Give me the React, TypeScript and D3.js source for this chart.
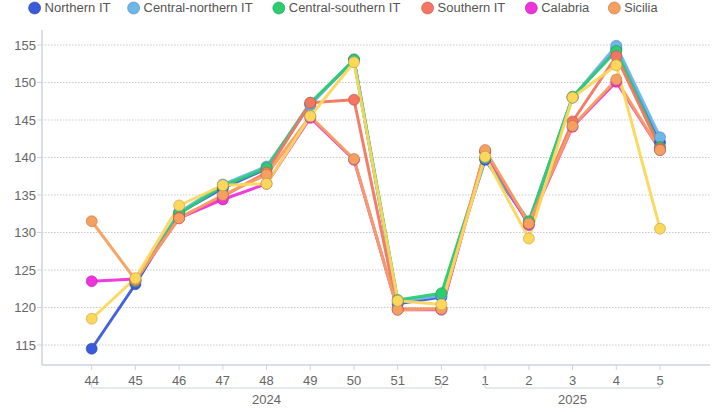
import React from "react";
import * as d3 from "d3";

const weeks = ["44", "45", "46", "47", "48", "49", "50", "51", "52", "1", "2", "3", "4", "5"];
const years = [
  { label: "2024", from: "44", to: "52" },
  { label: "2025", from: "1", to: "5" },
];
const yTicks = [115, 120, 125, 130, 135, 140, 145, 150, 155];

type V = number | null;
const northern: V[] = [114.5, 123.1, 132.6, 135.9, 138.5, 147.1, 153.0, 120.5, 121.4, 139.7, 131.3, 148.0, 154.5, 142.0];
const centralNorthern: V[] = [null, 123.5, 132.7, 136.4, 138.8, 147.0, 153.1, 120.8, 121.6, 139.9, 131.4, 148.0, 154.9, 142.7];
const centralSouthern: V[] = [null, 123.5, 132.5, 136.2, 138.6, 147.3, 153.0, 121.0, 121.9, 140.0, 131.5, 148.1, 154.2, 141.4];
const southern: V[] = [null, 123.6, 132.0, 134.8, 138.0, 147.3, 147.7, 119.8, 119.8, 140.8, 131.1, 144.8, 153.5, 141.2];
const calabria: V[] = [123.5, 123.8, 131.9, 134.4, 136.5, 145.3, 139.7, 119.7, 119.7, 140.8, 131.0, 144.1, 150.1, 141.0];
const sicilia: V[] = [131.5, 123.7, 131.9, 135.0, 137.7, 145.5, 139.8, 119.7, 119.8, 141.0, 131.2, 144.2, 150.4, 141.0];
const sardegna: V[] = [118.5, 123.9, 133.6, 136.3, 136.5, 145.5, 152.7, 120.9, 120.4, 140.1, 129.2, 148.0, 152.3, 130.5];

const seriesNames = ["Northern IT", "Central-northern IT", "Central-southern IT", "Southern IT", "Calabria", "Sicilia", ""];
const seriesValues = [northern, centralNorthern, centralSouthern, southern, calabria, sicilia, sardegna];
const seriesColors = ["#3a5bd9", "#6cb6ea", "#2ecc71", "#f47562", "#f032da", "#f5a05e", "#fcd75a"];
const showInLegend = [true, true, true, true, true, true, false];

const W = 719;
const H = 412;
const left = 42;
const right = 710;
const top = 30;
const bottom = 365;

export default function App() {
  const x = d3.scaleLinear().domain([0, weeks.length - 1]).range([91.7, 660]);
  const y = d3.scaleLinear().domain([112.33, 157.0]).range([bottom, top]);
  const fx = (i: number) => x(i);
  const line = d3
    .line<V>()
    .defined((d) => d != null)
    .x((_, i) => fx(i))
    .y((d) => y(d as number));

  const legendX = [34.6, 133.6, 278.8, 427.6, 531.3, 614.3];
  const legendW = [66, 109, 111.5, 67.7, 48, 33.2];
  const font = "'Liberation Sans', Arial, sans-serif";

  return (
    <svg width={W} height={H} style={{ position: "absolute", left: 0, top: 0, fontFamily: font }}>
      <rect width={W} height={H} fill="#fff" />
      {yTicks.map((t) => (
        <g key={t}>
          <line x1={left} x2={right} y1={y(t)} y2={y(t)} stroke="#c8c8c8" strokeDasharray="1.5,1.5" />
          <line x1={left - 5} x2={left} y1={y(t)} y2={y(t)} stroke="#ccd3e0" />
          <text x={left - 6} y={y(t)} dy="0.35em" textAnchor="end" fontSize={13} fill="#666">
            {t}
          </text>
        </g>
      ))}
      <line x1={left} x2={left} y1={top} y2={bottom} stroke="#ccd3e0" strokeWidth={1.5} />
      <line x1={left} x2={right} y1={bottom} y2={bottom} stroke="#ccd3e0" strokeWidth={1.5} />
      {weeks.map((w, i) => (
        <g key={w + i}>
          <line x1={fx(i)} x2={fx(i)} y1={bottom} y2={bottom + 5} stroke="#ccd3e0" />
          <text x={fx(i)} y={380} dy="0.35em" textAnchor="middle" fontSize={13} fill="#666">
            {w}
          </text>
        </g>
      ))}
      {years.map((yr) => {
        const a = fx(weeks.indexOf(yr.from));
        const b = fx(weeks.lastIndexOf(yr.to));
        return (
          <g key={yr.label}>
            <path d={`M${a},383V388H${b}V383`} fill="none" stroke="#ccd3e0" />
            <text x={(a + b) / 2} y={399} dy="0.35em" textAnchor="middle" fontSize={13} fill="#666">
              {yr.label}
            </text>
          </g>
        );
      })}
      {seriesValues.map((vals, s) => (
        <path
          key={"l" + s}
          d={line(vals) || ""}
          fill="none"
          stroke={seriesColors[s]}
          strokeWidth={3}
          strokeOpacity={0.95}
          strokeLinejoin="round"
        />
      ))}
      {seriesValues.map((vals, s) => (
        <g key={"p" + s}>
          {vals.map((v, i) =>
            v == null ? null : (
              <circle
                key={i}
                cx={fx(i)}
                cy={y(v)}
                r={5.5}
                fill={seriesColors[s]}
                stroke={d3.color(seriesColors[s])!.darker(0.8).formatHex()}
                strokeOpacity={0.6}
                strokeWidth={1}
              />
            )
          )}
        </g>
      ))}
      {seriesNames.map((n, s) =>
        showInLegend[s] ? (
          <g key={"lg" + s}>
            <circle
              cx={legendX[s]}
              cy={8}
              r={6}
              fill={seriesColors[s]}
              stroke={d3.color(seriesColors[s])!.darker(0.8).formatHex()}
              strokeOpacity={0.6}
            />
            <text
              x={legendX[s] + 10}
              y={8}
              dy="0.35em"
              fontSize={12.5}
              fill="#555"
              textLength={legendW[s]}
              lengthAdjust="spacingAndGlyphs"
            >
              {n}
            </text>
          </g>
        ) : null
      )}
    </svg>
  );
}
